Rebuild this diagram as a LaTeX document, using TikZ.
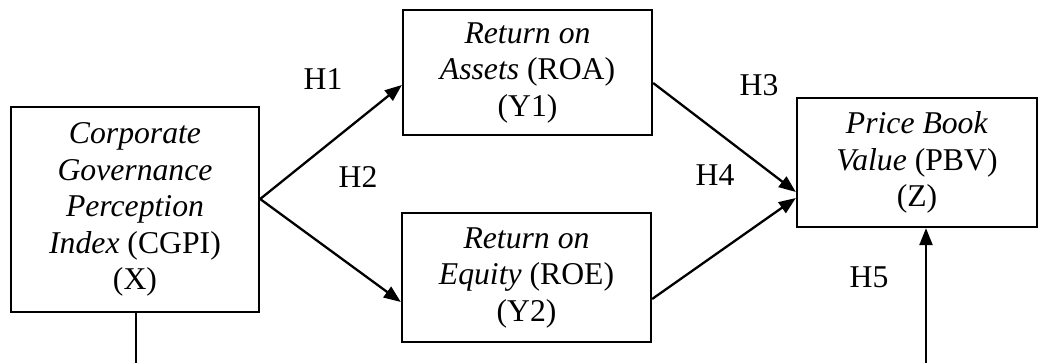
\documentclass[tikz,border=0pt]{standalone}
\usepackage{fontspec}
\setmainfont{Liberation Serif}
\usetikzlibrary{arrows.meta}
\begin{document}
\begin{tikzpicture}[x=1pt,y=-1pt,
  box/.style={draw, line width=2.3pt, inner sep=0pt, align=center,
    font=\fontsize{31.7}{36.5}\selectfont},
  arr/.style={line width=2.3pt, -{Triangle[length=17pt,width=13pt]}},
  plain/.style={line width=2.3pt},
  hlab/.style={inner sep=0pt, font=\fontsize{31.7}{36.5}\selectfont}]
\useasboundingbox (0,0) rectangle (1039,363);
\fill[white] (0,0) rectangle (1039,363);
\node[box, minimum width=248pt, minimum height=205pt] (X) at (135,209.5)
  {\textit{Corporate}\\ \textit{Governance}\\ \textit{Perception}\\ \textit{Index} (CGPI)\\ (X)};
\node[box, minimum width=249pt, minimum height=125pt] (ROA) at (527.5,72.5)
  {\textit{Return on}\\ \textit{Assets} (ROA)\\ (Y1)};
\node[box, minimum width=249pt, minimum height=129pt] (ROE) at (526.5,277.5)
  {\textit{Return on}\\ \textit{Equity} (ROE)\\ (Y2)};
\node[box, minimum width=240pt, minimum height=129pt] (Z) at (917,162.5)
  {\textit{Price Book}\\ \textit{Value} (PBV)\\ (Z)};
\node[hlab] (h1) at (323,79) {H1};
\node[hlab] (h2) at (358,177) {H2};
\node[hlab] (h3) at (759,85) {H3};
\node[hlab] (h4) at (715,175) {H4};
\node[hlab] (h5) at (869,277) {H5};
\coordinate (xb) at (136,363);
\coordinate (zb) at (926,363);
\draw[arr] ([yshift=10.5pt]X.east) -- ([yshift=-12.5pt]ROA.west);
\draw[arr] ([yshift=10.5pt]X.east) -- ([yshift=-24.5pt]ROE.west);
\draw[arr] ([yshift=-10.5pt]ROA.east) -- ([yshift=-29.5pt]Z.west);
\draw[arr] ([yshift=-21.5pt]ROE.east) -- ([yshift=-35.5pt]Z.west);
\draw[plain] (X.south -| xb) -- (xb);
\draw[arr] (zb) -- (zb |- Z.south);
\end{tikzpicture}
\end{document}
